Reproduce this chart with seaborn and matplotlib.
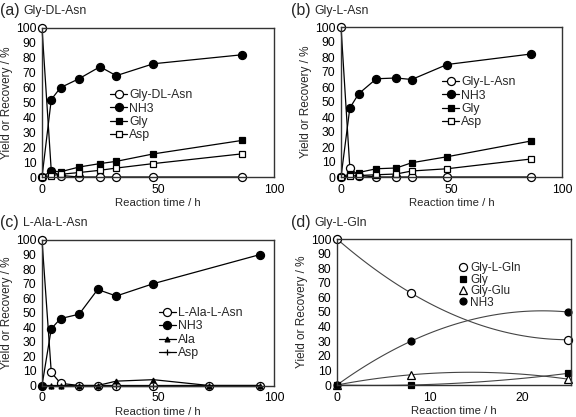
import numpy as np
import matplotlib
matplotlib.use("Agg")
import matplotlib.pyplot as plt
import seaborn as sns

# ---------------- data ----------------
# (a) Gly-DL-Asn
t_a = [0, 4, 8, 16, 25, 32, 48, 86]
a_dipep = [100, 4, 1, 0, 0, 0, 0, 0]
a_nh3 = [0, 52, 60, 66, 74, 68, 76, 82]
a_gly = [0, 4, 3.5, 6.7, 9, 10.5, 15.5, 24.5]
a_asp = [0, 1, 1.8, 3, 4.5, 6, 9, 15.5]

# (b) Gly-L-Asn
t_b = [0, 4, 8, 16, 25, 32, 48, 86]
b_dipep = [100, 6, 1, 0, 0, 0, 0, 0]
b_nh3 = [0, 46, 55.5, 65.5, 66, 65, 75, 82]
b_gly = [0, 2, 3, 5.5, 6, 9.5, 13.5, 24]
b_asp = [0, 0.5, 1, 1.5, 2, 4, 5.5, 12]

# (c) L-Ala-L-Asn
t_c = [0, 4, 8, 16, 24, 32, 48, 72, 94]
c_dipep = [100, 9, 1.5, 0, 0, 0, 0, 0, 0]
t_c_nh3 = [0, 4, 8, 16, 24, 32, 48, 94]
c_nh3 = [0, 39, 46, 49, 66, 61.5, 70, 90]
c_ala = [0, 0, 0, 0, 0, 3, 4, 0, 0]
c_asp = [0, 0, 0, 0, 0, 0, 0, 0, 0]

# (d) Gly-L-Gln
t_d = [0, 8, 25]
d_dipep = [100, 63, 31]
d_gly = [0, 0, 8]
d_glyglu = [0, 7, 4]
d_nh3 = [0, 30, 50]

panel_letters = ["(a)", "(b)", "(c)", "(d)"]
panel_names = ["Gly-DL-Asn", "Gly-L-Asn", "L-Ala-L-Asn", "Gly-L-Gln"]

# ---------------- style ----------------
sns.set_theme(style="white")
plt.rcParams["font.family"] = ["Liberation Sans", "DejaVu Sans"]
plt.rcParams["font.size"] = 8.5

W, H = 576, 417
fig = plt.figure(figsize=(W / 100, H / 100), dpi=100)


def px_axes(l, r, t, b):
    return fig.add_axes([l / W, 1 - b / H, (r - l) / W, (b - t) / H])


ax_a = px_axes(42, 274, 28, 177)
ax_b = px_axes(341, 562, 27, 177)
ax_c = px_axes(42, 274, 240, 385.5)
ax_d = px_axes(337, 571, 239, 385)

K = "black"
LW = 0.9


def draw(ax, x, y, label, marker, filled=True, ms=5.8, lw=LW):
    kw = dict(marker=marker, markersize=ms, color=K, linewidth=lw,
              markeredgecolor=K, markeredgewidth=0.9, clip_on=False)
    kw["markerfacecolor"] = K if filled else "white"
    sns.lineplot(x=x, y=y, ax=ax, label=label, sort=False, **kw)


def style_axes(ax, xmax, xticks):
    ax.set_xlim(0, xmax)
    ax.set_ylim(0, 100)
    ax.set_xticks(xticks)
    ax.set_yticks(np.arange(0, 101, 10))
    ax.set_xlabel("Reaction time / h", fontsize=8.2, labelpad=1.5)
    ax.set_ylabel("Yield or Recovery / %", fontsize=8.5, labelpad=2)
    ax.tick_params(axis="x", length=0, pad=5, labelsize=8.7, colors="black")
    ax.tick_params(axis="y", length=0, pad=4, labelsize=8.7, colors="black")
    for s in ax.spines.values():
        s.set_color("#333333")
        s.set_linewidth(1.0)
        s.set_visible(True)
    ax.set_facecolor("white")


def legend(ax, ax_x, ax_y, spacing=0.12, hl=1.4):
    return ax.legend(loc="upper left", bbox_to_anchor=(ax_x, ax_y), frameon=False,
                     borderpad=0, borderaxespad=0, handlelength=hl,
                     handletextpad=0.15, labelspacing=spacing, fontsize=8.8)


# (a)
draw(ax_a, t_a, a_dipep, "Gly-DL-Asn", "o", filled=False)
draw(ax_a, t_a, a_nh3, "NH3", "o")
draw(ax_a, t_a, a_gly, "Gly", "s", ms=4.3)
draw(ax_a, t_a, a_asp, "Asp", "s", filled=False, ms=4.3)
style_axes(ax_a, 100, [0, 50, 100])
legend(ax_a, 0.293, 0.59)

# (b)
draw(ax_b, t_b, b_dipep, "Gly-L-Asn", "o", filled=False)
draw(ax_b, t_b, b_nh3, "NH3", "o")
draw(ax_b, t_b, b_gly, "Gly", "s", ms=4.3)
draw(ax_b, t_b, b_asp, "Asp", "s", filled=False, ms=4.3)
style_axes(ax_b, 100, [0, 50, 100])
legend(ax_b, 0.457, 0.673)

# (c)
draw(ax_c, t_c, c_dipep, "L-Ala-L-Asn", "o", filled=False)
draw(ax_c, t_c_nh3, c_nh3, "NH3", "o")
draw(ax_c, t_c, c_ala, "Ala", "^", ms=3.5)
draw(ax_c, t_c, c_asp, "Asp", "+", ms=5)
style_axes(ax_c, 100, [0, 50, 100])
legend(ax_c, 0.504, 0.54)

# (d) smoothed curves through the measured points
xs = np.linspace(0, 25, 120)
series_d = [
    (d_dipep, "Gly-L-Gln", "o", False, 5.8),
    (d_gly, "Gly", "s", True, 4.6),
    (d_glyglu, "Gly-Glu", "^", False, 5.2),
    (d_nh3, "NH3", "o", True, 5.0),
]
for vals, lab, mk, filled, ms in series_d:
    coef = np.polyfit(t_d, vals, 2)
    sns.lineplot(x=xs, y=np.polyval(coef, xs), ax=ax_d, color="#444444",
                 linewidth=0.8, legend=False)
for vals, lab, mk, filled, ms in series_d:
    ax_d.plot(t_d, vals, linestyle="none", marker=mk, markersize=ms,
              markeredgecolor=K, markeredgewidth=0.9,
              markerfacecolor=K if filled else "white", clip_on=False, label=lab)
style_axes(ax_d, 25.3, [0, 10, 20])
ax_d.tick_params(axis="x", length=3, direction="in")
ax_d.legend(loc="upper left", bbox_to_anchor=(0.52, 0.84), frameon=False,
            borderpad=0, borderaxespad=0, handlelength=0.8, handletextpad=0.2,
            labelspacing=-0.05, fontsize=8.5)

# panel titles
for (x0, y0), letter, name in [((0, 11), "(a)", panel_names[0]),
                               ((291, 11), "(b)", panel_names[1]),
                               ((0, 223), "(c)", panel_names[2]),
                               ((291, 223), "(d)", panel_names[3])]:
    fig.text(x0 / W, 1 - y0 / H, letter, fontsize=11.5, va="center", ha="left")
    fig.text((x0 + 23) / W, 1 - y0 / H, name, fontsize=8.8, va="center", ha="left")

fig.savefig("out.png", dpi=100, facecolor="white")
